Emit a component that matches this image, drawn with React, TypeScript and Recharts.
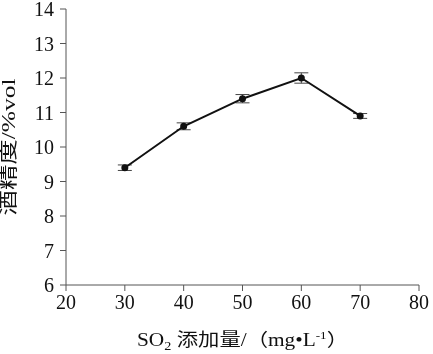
import React from 'react';
import { LineChart, Line, XAxis, YAxis, ErrorBar } from 'recharts';

const so2Dose = [30, 40, 50, 60, 70];
const alcohol = [9.4, 10.6, 11.4, 12.0, 10.9];
const alcoholErr = [0.08, 0.1, 0.12, 0.15, 0.07];
const xTicks = [20, 30, 40, 50, 60, 70, 80];
const yTicks = [6, 7, 8, 9, 10, 11, 12, 13, 14];

const data = so2Dose.map((dose, i) => ({ dose, alcohol: alcohol[i], err: alcoholErr[i] }));

const FONT = '"Liberation Serif", "Times New Roman", "Noto Sans CJK SC", serif';
const AXIS = '#555';

// x title with subscript 2 and superscript -1
const XLabel = (props: any) => {
  const { viewBox } = props;
  const cx = viewBox.x + viewBox.width / 2;
  const y = viewBox.y + 61;
  return (
    <text
      x={cx}
      y={y}
      textAnchor="middle"
      fontFamily={FONT}
      fontSize={18}
      fill="#111"
      textLength={211}
      lengthAdjust="spacingAndGlyphs"
    >
      SO
      <tspan fontSize={12} dy={4}>2</tspan>
      <tspan dy={-4}> 添加量/（mg•L</tspan>
      <tspan fontSize={11} dy={-7}>-1</tspan>
      <tspan dy={7}>）</tspan>
    </text>
  );
};

const YLabel = (props: any) => {
  const { viewBox } = props;
  const cy = viewBox.y + viewBox.height / 2;
  const cx = 9;
  return (
    <text
      x={cx}
      y={cy}
      textAnchor="middle"
      dominantBaseline="central"
      transform={`rotate(-90, ${cx}, ${cy})`}
      fontFamily={FONT}
      fontSize={18}
      fill="#111"
      textLength={137}
      lengthAdjust="spacingAndGlyphs"
    >
      酒精度/%vol
    </text>
  );
};

const App: React.FC = () => {
  return (
    <div style={{ position: 'fixed', left: 0, top: 0 }}>
      <LineChart width={433} height={354} data={data} margin={{ top: 9, right: 14, bottom: 0, left: 0 }}>
        <XAxis
          dataKey="dose"
          type="number"
          domain={[20, 80]}
          ticks={xTicks}
          interval={0}
          height={69}
          tickSize={6}
          tickMargin={4}
          stroke={AXIS}
          tick={{ fill: '#111', fontSize: 20, fontFamily: FONT }}
          label={<XLabel />}
        />
        <YAxis
          type="number"
          domain={[6, 14]}
          ticks={yTicks}
          interval={0}
          width={66}
          tickSize={6}
          tickMargin={6}
          stroke={AXIS}
          tick={{ fill: '#111', fontSize: 20, fontFamily: FONT }}
          label={<YLabel />}
        />
        <Line
          type="linear"
          dataKey="alcohol"
          stroke="#111"
          strokeWidth={2}
          dot={{ r: 2.5, fill: '#111', stroke: '#111' }}
          isAnimationActive={false}
        >
          <ErrorBar dataKey="err" direction="y" width={7} stroke="#444" strokeWidth={1} />
        </Line>
      </LineChart>
    </div>
  );
};

export default App;
